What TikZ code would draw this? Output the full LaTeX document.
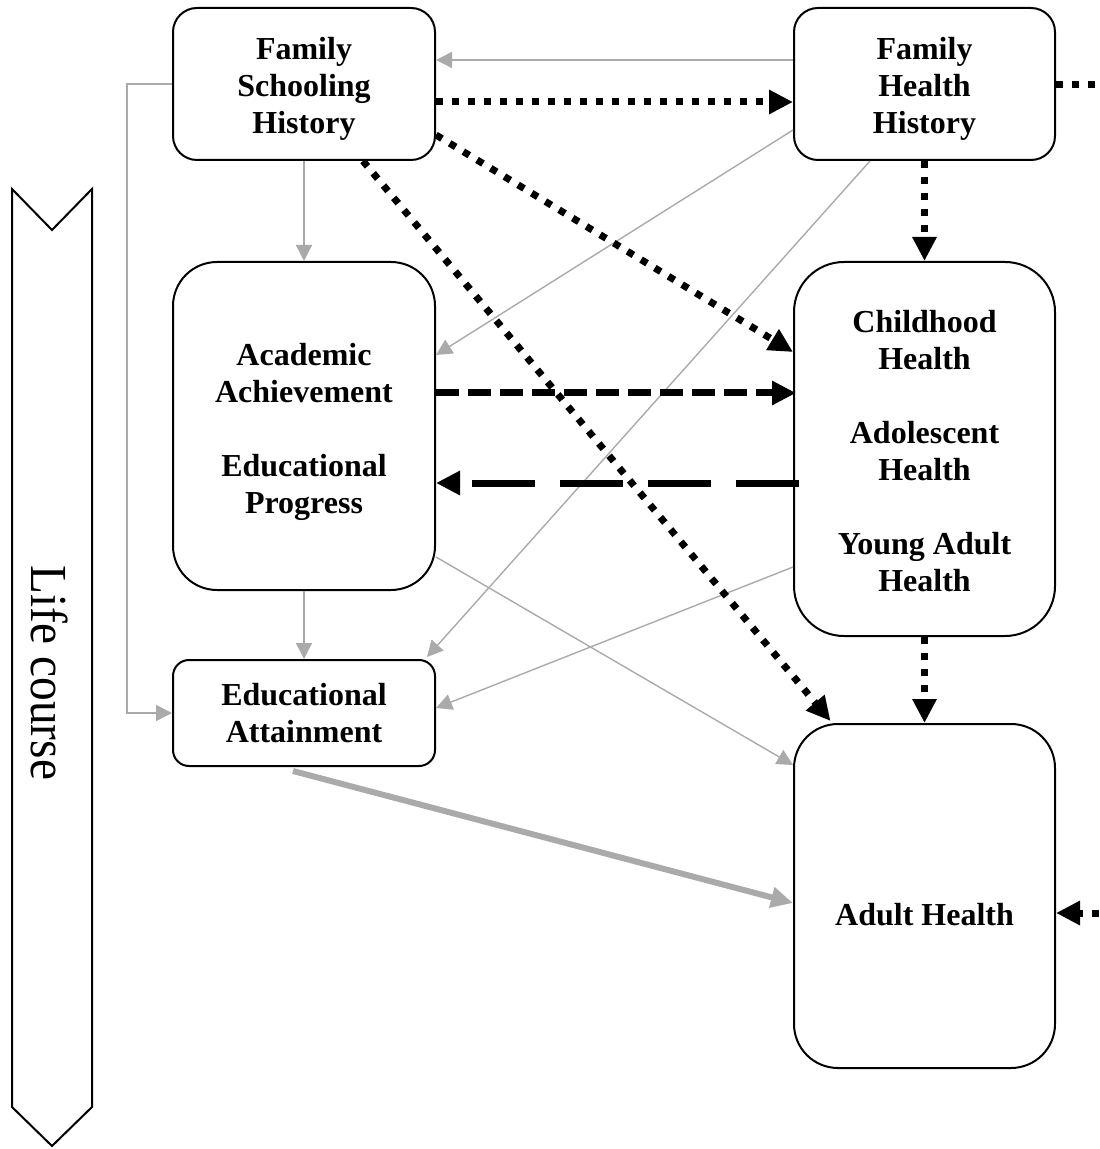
\documentclass[tikz,border=0pt]{standalone}
\usepackage{fontspec}
\setmainfont{Liberation Serif}
\usetikzlibrary{arrows.meta}
\definecolor{linkgray}{RGB}{170,170,170}
\tikzset{
  box/.style={draw=black, line width=1pt, fill=white, inner sep=0pt},
  boxtext/.style={align=center, font=\fontsize{16pt}{18.5pt}\selectfont\bfseries, inner sep=0pt},
  bigtip/.tip={Triangle[length=12pt,width=11.5pt]},
  graytip/.tip={Triangle[length=8pt,width=8pt]},
  thin link/.style={draw=linkgray, line width=0.7pt, -graytip},
  dotted link/.style={draw=black, line width=3.5pt, dash pattern=on 3.5pt off 4.5pt},
  dashed link/.style={draw=black, line width=3.5pt, dash pattern=on 11.5pt off 4.5pt},
  long dashed link/.style={draw=black, line width=3.5pt, dash pattern=on 31.5pt off 12.5pt},
}
\begin{document}
\begin{tikzpicture}[x=0.5pt, y=-0.5pt]
  \useasboundingbox (0,0) rectangle (1099,1149);

  % life-course band
  \draw[line width=1pt, line join=miter] (12,189) -- (52,230) -- (92,189) -- (92,1107)
        -- (52,1146) -- (12,1107) -- cycle;
  \node[rotate=-90, inner sep=0pt, font=\fontsize{26pt}{30pt}\selectfont] (life) at (50,673)
        {\scalebox{0.91}[1]{Life course}};

  % boxes, each with its text set as a centred label
  \node[box, minimum width=131pt, minimum height=76pt, rounded corners=12pt,
        label={[boxtext, yshift=-2.5pt]center:{Family\\Schooling\\History}}]
        (fsh) at (304,84) {};
  \node[box, minimum width=130.5pt, minimum height=76pt, rounded corners=12pt,
        label={[boxtext, yshift=-2.5pt]center:{Family\\Health\\History}}]
        (fhh) at (924.5,84) {};
  \node[box, minimum width=131pt, minimum height=164pt, rounded corners=22pt,
        label={[boxtext, yshift=-3pt]center:{Academic\\Achievement\\[18.5pt]Educational\\Progress}}]
        (acad) at (304,426) {};
  \node[box, minimum width=130.5pt, minimum height=187pt, rounded corners=25pt,
        label={[boxtext, yshift=-1pt]center:{Childhood\\Health\\[18.5pt]Adolescent\\Health\\[18.5pt]Young Adult\\Health}}]
        (chh) at (924.5,449) {};
  \node[box, minimum width=131pt, minimum height=53pt, rounded corners=8pt,
        label={[boxtext]center:{Educational\\Attainment}}]
        (ea) at (304,713) {};
  \node[box, minimum width=130.5pt, minimum height=172pt, rounded corners=22pt]
        (ah) at (924.5,896) {};
  \node[boxtext] (ahlabel) at (924.5,915) {Adult Health};

  % loose ends at the right margin
  \coordinate (outtop) at (1099,85);
  \coordinate (outlow) at (1099,913);

  % thin grey links
  \draw[thin link] ([yshift=12pt]fhh.west) -- ([yshift=12pt]fsh.east);
  \draw[thin link] (fsh.south) -- (acad.north);
  \draw[thin link] (fsh.west) -- ++(-22.5pt,0) |- (ea.west);
  \draw[thin link] ([yshift=-23pt]fhh.west) -- ([yshift=35.5pt]acad.east);
  \draw[thin link] ([xshift=-27.25pt]fhh.south) -- ([xshift=61.5pt,yshift=1pt]ea.north);
  \draw[thin link] (acad.south) -- (ea.north);
  \draw[thin link] ([yshift=-65.5pt]acad.east) -- ([yshift=65.5pt]ah.west);
  \draw[thin link] ([yshift=-59pt]chh.west) -- ([yshift=2.5pt]ea.east);

  % thick grey link
  \draw[draw=linkgray, line width=3pt, -{Triangle[length=11pt,width=10pt]}]
        ([xshift=-5.5pt,yshift=-2pt]ea.south) -- ([yshift=-3.5pt]ah.west);

  % dotted links
  \draw[dotted link, -bigtip] ([yshift=-9pt]fsh.east) -- ([yshift=-9pt]fhh.west);
  \draw[dotted link] (fhh.east |- outtop) -- (outtop);
  \draw[dotted link, -bigtip] ([yshift=-25.5pt]fsh.east) -- ([yshift=48.5pt]chh.west);
  \draw[dotted link, -bigtip] ([xshift=29.5pt]fsh.south) -- ([xshift=-47pt,yshift=1pt]ah.north);
  \draw[dotted link, -bigtip] (fhh.south) -- (chh.north);
  \draw[dotted link, -bigtip] (chh.south) -- (ah.north);
  \draw[dotted link, -bigtip] (outlow) -- ([yshift=-8.5pt]ah.east);

  % dashed links between schooling and health
  \draw[dashed link, -bigtip] ([yshift=16.5pt]acad.east) -- ([yshift=28pt,xshift=1.5pt]chh.west);
  \draw[long dashed link, -bigtip] ([yshift=-17pt,xshift=3pt]chh.west) -- ([yshift=-28.5pt]acad.east);
\end{tikzpicture}
\end{document}
